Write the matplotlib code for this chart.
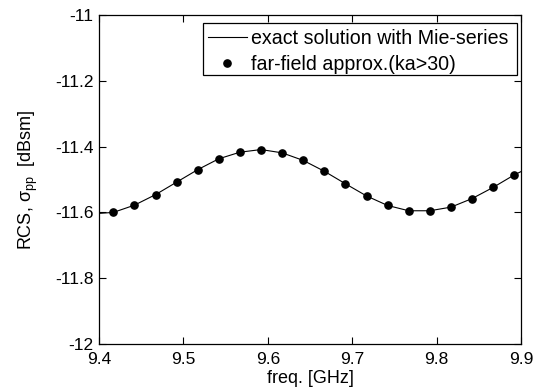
import matplotlib
matplotlib.use("Agg")
import matplotlib.pyplot as plt
from matplotlib.patches import Rectangle

plt.rcParams['font.family'] = ['Liberation Sans', 'DejaVu Sans']
plt.rcParams['mathtext.fontset'] = 'custom'
plt.rcParams['mathtext.rm'] = 'Liberation Sans'
plt.rcParams['mathtext.it'] = 'Liberation Sans'

# far-field approximation sample points
freq_pts = [9.417, 9.442, 9.467, 9.492, 9.517, 9.542, 9.567, 9.592, 9.617, 9.642,
            9.667, 9.692, 9.717, 9.742, 9.767, 9.792, 9.817, 9.842, 9.867, 9.892]
rcs_pts = [-11.600, -11.578, -11.546, -11.508, -11.470, -11.437, -11.417, -11.409,
           -11.419, -11.442, -11.475, -11.513, -11.550, -11.579, -11.595, -11.595,
           -11.584, -11.558, -11.524, -11.486]

# exact Mie-series solution
freq_line = [9.400] + freq_pts + [9.900]
rcs_line = [-11.603] + rcs_pts + [-11.476]

xticks = [9.4, 9.5, 9.6, 9.7, 9.8, 9.9]
yticks = [-12, -11.8, -11.6, -11.4, -11.2, -11]
xtick_labels = ['9.4', '9.5', '9.6', '9.7', '9.8', '9.9']
ytick_labels = ['-12', '-11.8', '-11.6', '-11.4', '-11.2', '-11']

W, H = 549, 389
fig = plt.figure(figsize=(W / 100, H / 100), dpi=100)
ax = fig.add_axes([99/W, 45/H, 422/W, 329/H])

ax.plot(freq_line, rcs_line, color='black', linewidth=0.8,
        label='exact solution with Mie-series')
ax.plot(freq_pts, rcs_pts, linestyle='none', marker='o', markersize=5.2,
        color='black', label='far-field approx.(ka>30)')

ax.set_xlim(9.4, 9.9)
ax.set_ylim(-12, -11)
ax.set_xticks(xticks)
ax.set_xticklabels(xtick_labels)
ax.set_yticks(yticks)
ax.set_yticklabels(ytick_labels)
ax.tick_params(direction='in', top=True, right=True, length=5, width=0.8,
               labelsize=12.5)
ax.tick_params(axis='x', pad=6)
ax.tick_params(axis='y', pad=4)
for s in ax.spines.values():
    s.set_linewidth(0.9)

ax.set_xlabel('freq. [GHz]', fontsize=13, labelpad=2)
ax.set_ylabel(r'RCS, $\sigma_{\rm pp}$  [dBsm]', fontsize=13, labelpad=11)

# legend contents (frame drawn separately for asymmetric padding)
leg = ax.legend(loc='upper right',
                bbox_to_anchor=((508 - 99) / 422, (345 - 29.5) / 329),
                fontsize=14.1, frameon=False, borderpad=0.0,
                handlelength=2.0, handletextpad=0.2, labelspacing=0.38,
                borderaxespad=0.0, numpoints=1)
leg.set_zorder(5)

# legend frame
fx0, fx1 = 203 / W, 517 / W
fy0, fy1 = 1 - 75 / H, 1 - 22.7 / H
frame = Rectangle((fx0, fy0), fx1 - fx0, fy1 - fy0, transform=fig.transFigure,
                  facecolor='white', edgecolor='black', linewidth=0.9, zorder=4)
ax.add_patch(frame)
frame.set_clip_on(False)

fig.savefig('out.png', dpi=100)
